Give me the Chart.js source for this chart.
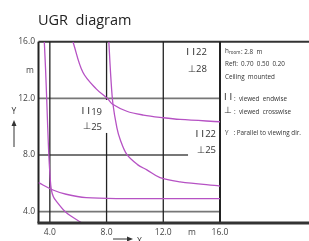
<!DOCTYPE html>
<html><head><meta charset="utf-8">
<script src="https://cdn.jsdelivr.net/npm/chart.js@4"></script>
<style>html,body{margin:0;padding:0;background:#fff}#c{display:block}</style>
</head><body><canvas id="c" width="309" height="241"></canvas>
<script>
// ---- data ----
const xTicks = [4, 8, 12, 16];
const yTicks = [4, 8, 12, 16];
const xTickLabels = ['4.0', '8.0', '12.0', '16.0'];
const yTickLabels = ['4.0', '8.0', '12.0', '16.0'];

const curveA_x = [5.63, 6.33, 7.27, 8.09, 8.40, 9.43, 10.6, 12.0, 13.18, 16.0];
const curveA_y = [16.0, 13.84, 12.67, 11.96, 11.6, 11.09, 10.82, 10.63, 10.51, 10.35];

const curveB_x = [8.16, 8.30, 8.45, 8.73, 8.96, 9.43, 10.16, 10.84, 11.77, 13.18, 16.0];
const curveB_y = [16.0, 13.5, 11.6, 9.92, 9.10, 8.04, 7.34, 6.95, 6.40, 6.11, 5.81];

const curveC_x = [3.61, 3.70, 3.78, 3.91, 4.03, 4.10, 4.25, 4.45, 5.15, 6.21];
const curveC_y = [16.0, 14.0, 11.92, 8.39, 6.28, 5.58, 5.05, 4.75, 3.94, 3.23];

const curveD_x = [3.2, 4.22, 5.15, 6.56, 9.38, 12.0, 16.0];
const curveD_y = [6.05, 5.53, 5.23, 4.99, 4.92, 4.92, 4.92];

const cellLabels = [
  {x: 15.08, y: 15.27, a: '22', b: '28', gap: 17},
  {x: 7.68, y: 11.04, a: '19', b: '25', gap: 15},
  {x: 15.72, y: 9.47, a: '22', b: '25', gap: 16}
];

const toPts = (xs, ys) => xs.map((x, i) => ({x, y: ys[i]}));
const purple = '#b652c4';
const mk = (xs, ys) => ({data: toPts(xs, ys), showLine: true, borderColor: purple,
  borderWidth: 1.3, pointRadius: 0, tension: 0.35, fill: false});

const FONT = '"Open Sans", "DejaVu Sans", sans-serif';

const deco = {
  id: 'deco',
  beforeDatasetsDraw(chart) {
    const {ctx, chartArea: ca, scales: {x, y}} = chart;
    const W = chart.width;
    ctx.save();
    yTicks.forEach(t => {
      const py = y.getPixelForValue(t);
      ctx.beginPath();
      ctx.strokeStyle = t === 16 ? '#333' : '#777';
      ctx.lineWidth = t === 16 ? 2 : 1.8;
      ctx.moveTo(ca.left, py); ctx.lineTo(t === 16 ? W : x.getPixelForValue(16), py);
      ctx.stroke();
    });
    xTicks.forEach(t => {
      const px = x.getPixelForValue(t);
      ctx.beginPath();
      ctx.strokeStyle = '#222';
      ctx.lineWidth = t === 16 ? 2 : 1.3;
      ctx.moveTo(px, ca.top); ctx.lineTo(px, ca.bottom);
      ctx.stroke();
    });
    ctx.beginPath(); ctx.strokeStyle = '#222'; ctx.lineWidth = 2;
    ctx.moveTo(ca.left, ca.top); ctx.lineTo(ca.left, ca.bottom); ctx.stroke();
    ctx.restore();
  },
  afterDatasetsDraw(chart) {
    const {ctx, chartArea: ca, scales: {x, y}} = chart;
    const W = chart.width;
    ctx.save();
    ctx.beginPath(); ctx.strokeStyle = '#333'; ctx.lineWidth = 3;
    ctx.moveTo(ca.left - 1, ca.bottom); ctx.lineTo(W, ca.bottom); ctx.stroke();

    ctx.fillStyle = '#222';
    ctx.font = '14.5px ' + FONT;
    ctx.textAlign = 'left'; ctx.textBaseline = 'alphabetic';
    ctx.fillText('UGR  diagram', 38, 25);

    ctx.fillStyle = '#444';
    ctx.font = '8.5px ' + FONT;
    ctx.textAlign = 'right'; ctx.textBaseline = 'middle';
    yTicks.forEach((t, i) => ctx.fillText(yTickLabels[i], 35, y.getPixelForValue(t)));
    ctx.textAlign = 'center';
    xTicks.forEach((t, i) => ctx.fillText(xTickLabels[i], x.getPixelForValue(t), 233));
    ctx.fillText('m', 192, 233);
    ctx.fillText('m', 30, 71);

    ctx.strokeStyle = '#333'; ctx.fillStyle = '#333'; ctx.lineWidth = 1;
    ctx.beginPath(); ctx.moveTo(14, 147); ctx.lineTo(14, 124); ctx.stroke();
    ctx.beginPath(); ctx.moveTo(14, 120); ctx.lineTo(11.5, 126); ctx.lineTo(16.5, 126); ctx.closePath(); ctx.fill();
    ctx.fillText('Y', 14, 112);
    ctx.beginPath(); ctx.moveTo(113, 239); ctx.lineTo(129, 239); ctx.stroke();
    ctx.beginPath(); ctx.moveTo(133, 239); ctx.lineTo(127, 236.5); ctx.lineTo(127, 241.5); ctx.closePath(); ctx.fill();
    ctx.textAlign = 'left';
    ctx.fillText('X', 137, 242);

    cellLabels.forEach((l, i) => {
      const px = x.getPixelForValue(l.x), py = y.getPixelForValue(l.y);
      ctx.fillStyle = '#fff';
      if (i === 1) ctx.fillRect(px - 22, py - 12, 28, 33);
      if (i === 2) ctx.fillRect(px - 28, py - 8, 31, 30);
      ctx.fillStyle = '#333';
      ctx.font = '9.5px ' + FONT;
      ctx.textAlign = 'right'; ctx.textBaseline = 'middle';
      ctx.fillText(l.a, px, py);
      ctx.fillText(l.b, px, py + l.gap);
      ctx.font = '9.5px "DejaVu Sans", sans-serif';
      ctx.fillText('I I', px - 12, py);
      ctx.fillText('\u22A5', px - 11, py + l.gap);
    });

    ctx.fillStyle = '#333';
    ctx.textAlign = 'left'; ctx.textBaseline = 'middle';
    ctx.font = '6.3px ' + FONT;
    ctx.fillText('h', 225, 51);
    ctx.font = '4.5px ' + FONT;
    ctx.fillText('room', 229, 53);
    ctx.font = '6.3px ' + FONT;
    ctx.fillText(': 2.8  m', 241, 52);
    ctx.fillText('Refl:  0.70  0.50  0.20', 225, 64);
    ctx.fillText('Ceiling  mounted', 225, 77);
    ctx.font = '9px "DejaVu Sans", sans-serif';
    ctx.fillText('I I', 224, 98);
    ctx.fillText('\u22A5', 224, 111);
    ctx.font = '6.3px ' + FONT;
    ctx.fillText(':  viewed  endwise', 234, 99);
    ctx.fillText(':  viewed  crosswise', 234, 112);
    ctx.fillText('Y   : Parallel to viewing dir.', 225, 133);
    ctx.restore();
  }
};

new Chart(document.getElementById('c'), {
  type: 'scatter',
  data: {datasets: [mk(curveA_x, curveA_y), mk(curveB_x, curveB_y), mk(curveC_x, curveC_y), mk(curveD_x, curveD_y)]},
  options: {
    responsive: false, animation: false, devicePixelRatio: 1,
    layout: {padding: {left: 38.5, right: 89, top: 41.7, bottom: 18}},
    plugins: {legend: {display: false}, tooltip: {enabled: false}},
    scales: {
      x: {type: 'linear', min: 3.2, max: 16, display: false},
      y: {type: 'linear', min: 3.2, max: 16, display: false}
    }
  },
  plugins: [deco]
});
</script></body></html>
